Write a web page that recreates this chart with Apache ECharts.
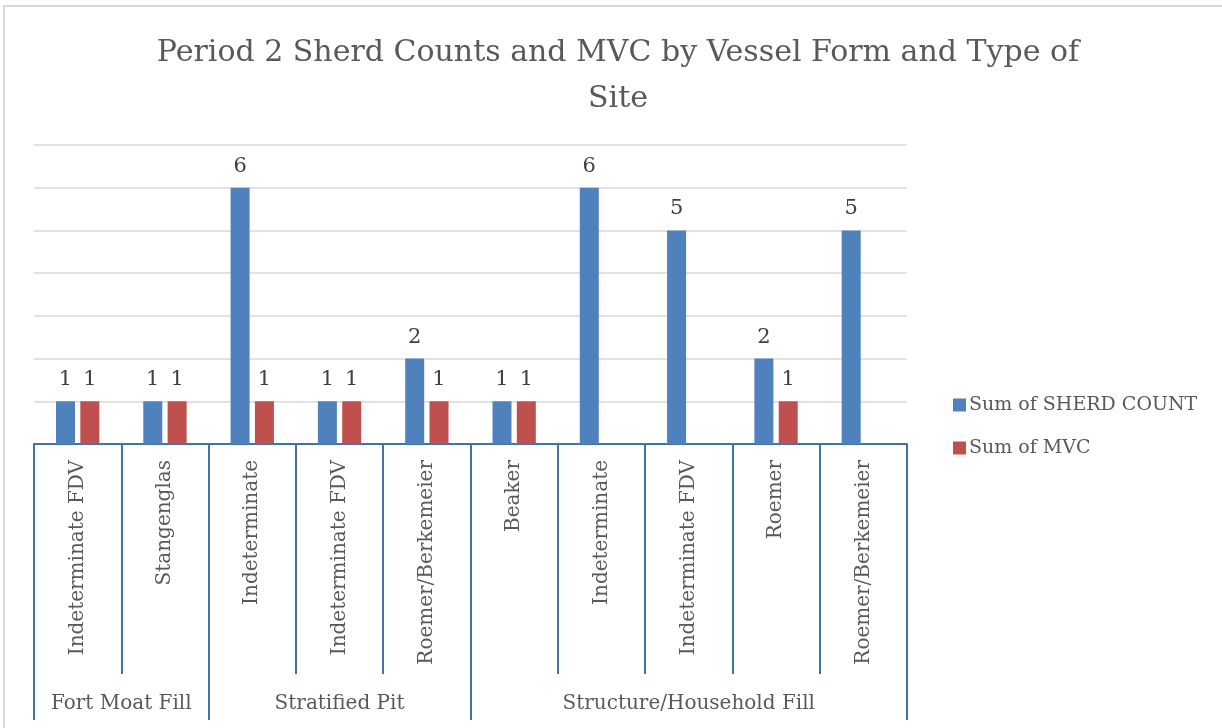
<!DOCTYPE html>
<html>
<head>
<meta charset="utf-8">
<script src="https://cdn.jsdelivr.net/npm/echarts@6/dist/echarts.min.js"></script>
<style>
  html, body { margin: 0; padding: 0; background: #fff; }
  #frame { position: absolute; left: 3px; top: 5px; width: 1300px; height: 800px;
           border-left: 2px solid #d9d9d9; border-top: 2px solid #d9d9d9; }
  #main { position: absolute; left: 0; top: 0; width: 1222px; height: 728px; }
</style>
</head>
<body>
<div id="frame"></div>
<div id="main"></div>
<script>
// vessel forms, one per bar pair
let categories = ['Indeterminate FDV', 'Stangenglas', 'Indeterminate', 'Indeterminate FDV', 'Roemer/Berkemeier',
    'Beaker', 'Indeterminate', 'Indeterminate FDV', 'Roemer', 'Roemer/Berkemeier'];
// type of site, and how many vessel forms fall under each
let groups = ['Fort Moat Fill', 'Stratified Pit', 'Structure/Household Fill'];
let groupSizes = [2, 3, 5];
let sherdCount = [1, 1, 6, 1, 2, 1, 6, 5, 2, 5];
let mvc = [1, 1, 1, 1, 1, 1, null, null, 1, null];

let font = 'DejaVu Serif';
let axisBlue = '#4770a6';

// group boundaries and centres in category units
let bounds = [0];
groupSizes.forEach(function (n) { bounds.push(bounds[bounds.length - 1] + n); });
let centres = groups.map(function (g, i) { return (bounds[i] + bounds[i + 1]) / 2; });

let myChart = echarts.init(document.getElementById('main'));
let option = {
    color: ['#4F81BD', '#C0504D'],
    textStyle: { fontFamily: font },
    title: {
        text: 'Period 2 Sherd Counts and MVC by Vessel Form and Type of\nSite',
        left: 613,
        textAlign: 'center',
        top: 25,
        textStyle: {
            color: '#595959',
            fontFamily: font,
            fontWeight: 'normal',
            fontSize: 30,
            lineHeight: 46
        }
    },
    legend: {
        orient: 'vertical',
        left: 948,
        top: 390,
        itemWidth: 13,
        itemHeight: 13,
        itemGap: 23,
        icon: 'rect',
        data: ['Sum of SHERD COUNT', 'Sum of MVC'],
        textStyle: {
            color: '#595959',
            fontFamily: font,
            fontSize: 19,
            lineHeight: 20,
            padding: [0, 0, 0, -2]
        }
    },
    grid: {
        left: 34,
        right: 315,
        top: 145,
        bottom: 284,
        containLabel: false
    },
    xAxis: [{
        type: 'category',
        data: categories,
        position: 'bottom',
        axisLine: { lineStyle: { color: axisBlue, width: 2 } },
        axisTick: {
            show: true,
            interval: 0,
            length: 230,
            lineStyle: { color: axisBlue, width: 2 }
        },
        axisLabel: {
            interval: 0,
            rotate: 90,
            margin: 16,
            color: '#595959',
            fontFamily: font,
            fontSize: 20
        },
        splitLine: { show: false }
    }, {
        type: 'value',
        min: 0,
        max: categories.length,
        position: 'bottom',
        axisLine: { show: false },
        axisTick: {
            show: true,
            customValues: bounds,
            length: 276,
            lineStyle: { color: axisBlue, width: 2 }
        },
        axisLabel: {
            customValues: centres,
            margin: 250,
            color: '#595959',
            fontFamily: font,
            fontSize: 20,
            formatter: function (v) {
                return groups[centres.indexOf(v)];
            }
        },
        splitLine: { show: false }
    }],
    yAxis: {
        type: 'value',
        min: 0,
        max: 7,
        interval: 1,
        axisLabel: { show: false },
        axisLine: { show: false },
        axisTick: { show: false },
        splitLine: { lineStyle: { color: '#d9d9d9', width: 1.5 } }
    },
    series: [{
        name: 'Sum of SHERD COUNT',
        type: 'bar',
        xAxisIndex: 0,
        data: sherdCount,
        barWidth: 19,
        barGap: '28%',
        label: {
            show: true,
            position: 'top',
            distance: 11,
            color: '#404040',
            fontFamily: font,
            fontSize: 21
        }
    }, {
        name: 'Sum of MVC',
        type: 'bar',
        xAxisIndex: 0,
        data: mvc,
        barWidth: 19,
        barGap: '28%',
        label: {
            show: true,
            position: 'top',
            distance: 11,
            color: '#404040',
            fontFamily: font,
            fontSize: 21
        }
    }]
};
myChart.setOption(option);
</script>
</body>
</html>
